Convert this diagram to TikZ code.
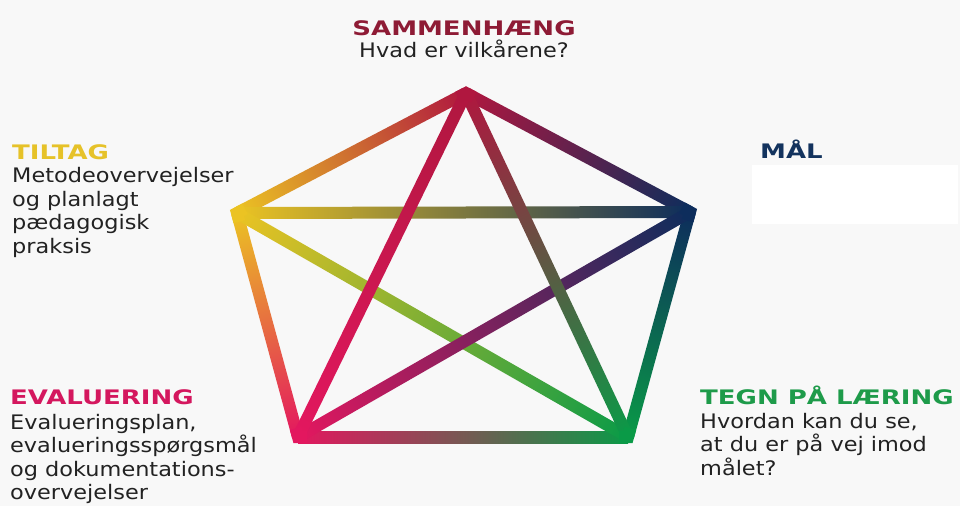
\documentclass[tikz,border=0pt]{standalone}
\usepackage{fontspec}
\setmainfont{DejaVu Sans}[FakeStretch=1.12]
\newfontfamily\titlefont{DejaVu Sans}[FakeStretch=1.30]
\usetikzlibrary{calc}
\definecolor{cT}{HTML}{B0173F}
\definecolor{cL}{HTML}{EBC323}
\definecolor{cR}{HTML}{0D2D5C}
\definecolor{cBR}{HTML}{0A9A47}
\definecolor{cBL}{HTML}{E3175F}
\definecolor{tT}{HTML}{8E1B35}
\definecolor{tL}{HTML}{E6C229}
\definecolor{tR}{HTML}{13335E}
\definecolor{tBR}{HTML}{1E9B4A}
\definecolor{tBL}{HTML}{D4175E}
\definecolor{bodytext}{HTML}{222222}
\definecolor{bg}{HTML}{F8F8F8}
\newcommand\segw{6pt}
\makeatletter
\newcommand\gradseg[4]{%
  \pgfpointdiff{\pgfpointanchor{#1}{center}}{\pgfpointanchor{#2}{center}}%
  \edef\gsdx{\the\pgf@x}\edef\gsdy{\the\pgf@y}%
  \pgfmathsetmacro\gslen{veclen(\gsdx,\gsdy)}%
  \pgfmathsetmacro\gsang{atan2(\gsdy,\gsdx)}%
  \begin{scope}[transform canvas={shift={(#1)},rotate=\gsang}]
    \shade[left color=#3,right color=#4] (0pt,-\segw) rectangle (\gslen pt,\segw);
  \end{scope}}
\makeatother
\tikzset{
  ttl/.style={anchor=base west, inner sep=0pt, font=\titlefont\bfseries\fontsize{20}{23}\selectfont},
  body/.style={anchor=base west, inner sep=0pt, align=left, text=bodytext,
    font=\fontsize{20}{23.4}\selectfont},
  corner/.style={line width=12pt, line join=miter}
}
\begin{document}
\begin{tikzpicture}[x=1pt,y=-1pt]
\useasboundingbox (0,0) rectangle (960,506);
\fill[bg] (0,0) rectangle (960,506);
\fill[white] (752,165) rectangle (958,224);
% vertices
\coordinate (T) at (466,93);
\coordinate (R) at (690,212);
\coordinate (BR) at (628,437);
\coordinate (BL) at (298,437);
\coordinate (L) at (237,213);
% outer edges
\gradseg{L}{T}{cL}{cT}
\gradseg{T}{R}{cT}{cR}
\gradseg{R}{BR}{cR}{cBR}
\gradseg{BL}{BR}{cBL}{cBR}
\gradseg{L}{BL}{cL}{cBL}
% diagonals
\gradseg{L}{R}{cL}{cR}
\gradseg{L}{BR}{cL}{cBR}
\gradseg{R}{BL}{cR}{cBL}
\gradseg{T}{BR}{cT}{cBR}
\gradseg{T}{BL}{cT}{cBL}
% mitred corners
\draw[corner,cT] ($(T)!9pt!(L)$) -- (T) -- ($(T)!9pt!(R)$);
\draw[corner,cR] ($(R)!9pt!(T)$) -- (R) -- ($(R)!9pt!(BR)$);
\draw[corner,cBR] ($(BR)!9pt!(R)$) -- (BR) -- ($(BR)!9pt!(BL)$);
\draw[corner,cBL] ($(BL)!9pt!(BR)$) -- (BL) -- ($(BL)!9pt!(L)$);
\draw[corner,cL] ($(L)!9pt!(BL)$) -- (L) -- ($(L)!9pt!(T)$);
% texts (multi-line nodes: base = last line)
\node[ttl,text=tT,anchor=base] (sam) at (464,35) {SAMMENHÆNG};
\node[body,anchor=base] (samb) at (464,57) {Hvad er vilkårene?};
\node[ttl,text=tL] (til) at (12,159) {TILTAG};
\node[body] (tilb) at (12,253) {Metodeovervejelser\\og planlagt\\pædagogisk\\praksis};
\node[ttl,text=tR] (mal) at (760,158) {MÅL};
\node[ttl,text=tBL] (eva) at (10,404) {EVALUERING};
\node[body] (evab) at (10,499.5) {Evalueringsplan,\\evalueringsspørgsmål\\og dokumentations-\\overvejelser};
\node[ttl,text=tBR] (teg) at (700,404) {TEGN PÅ LÆRING};
\node[body] (tegb) at (700,475) {Hvordan kan du se,\\at du er på vej imod\\målet?};
\end{tikzpicture}
\end{document}
